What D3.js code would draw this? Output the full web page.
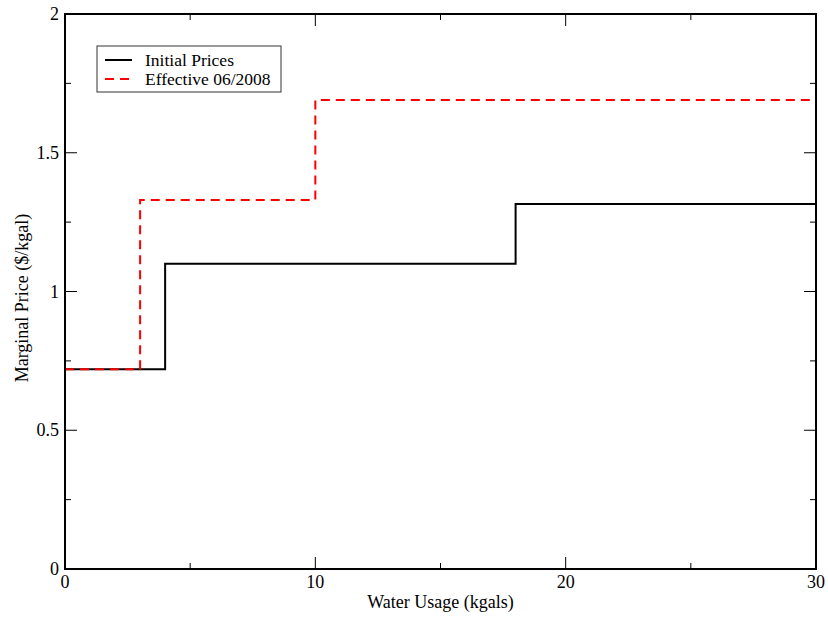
<!DOCTYPE html>
<html>
<head>
<meta charset="utf-8">
<script src="https://cdn.jsdelivr.net/npm/d3@7"></script>
<style>
  body { margin: 0; background: #fff; }
  text { font-family: "Liberation Serif", "Times New Roman", Times, "DejaVu Serif", serif; }
</style>
</head>
<body>
<svg width="828" height="617"></svg>
<script>
// step data: each series is [x, price] breakpoints, last point closes the step
let initialX = [0, 4, 18, 30];
let initialY = [0.72, 1.10, 1.315, 1.315];
let effectiveX = [0, 3, 10, 30];
let effectiveY = [0.72, 1.33, 1.69, 1.69];

let xMajor = [0, 10, 20, 30];
let xMinor = [5, 15, 25];
let yMajor = [0, 0.5, 1, 1.5, 2];
let yMinor = [0.25, 0.75, 1.25, 1.75];

let svg = d3.select("svg");
let plotLeft = 65, plotRight = 816, plotTop = 14, plotBottom = 569;

let x = d3.scaleLinear().domain([0, 30]).range([plotLeft, plotRight]);
let y = d3.scaleLinear().domain([0, 2]).range([plotBottom, plotTop]);

// ticks on all four sides, pointing inward
function xticks(g, vals, len) {
    vals.forEach(v => {
        g.append("line").attr("x1", x(v)).attr("x2", x(v)).attr("y1", plotBottom).attr("y2", plotBottom - len);
        g.append("line").attr("x1", x(v)).attr("x2", x(v)).attr("y1", plotTop).attr("y2", plotTop + len);
    });
}
function yticks(g, vals, len) {
    vals.forEach(v => {
        g.append("line").attr("y1", y(v)).attr("y2", y(v)).attr("x1", plotLeft).attr("x2", plotLeft + len);
        g.append("line").attr("y1", y(v)).attr("y2", y(v)).attr("x1", plotRight).attr("x2", plotRight - len);
    });
}
let tg = svg.append("g").attr("stroke", "#000").attr("stroke-width", 1);
xticks(tg, xMajor, 12);
xticks(tg, xMinor, 6);
yticks(tg, yMajor, 12);
yticks(tg, yMinor, 6);

// data lines
let line = d3.line().curve(d3.curveStepAfter).x(d => x(d[0])).y(d => y(d[1]));

svg.append("path")
    .datum(initialX.map((v, i) => [v, initialY[i]]))
    .attr("d", line)
    .attr("fill", "none")
    .attr("stroke", "#000")
    .attr("stroke-width", 2);

svg.append("path")
    .datum(effectiveX.map((v, i) => [v, effectiveY[i]]))
    .attr("d", line)
    .attr("fill", "none")
    .attr("stroke", "#ff0000")
    .attr("stroke-width", 2)
    .attr("stroke-dasharray", "9,6");

// frame
svg.append("rect")
    .attr("x", plotLeft).attr("y", plotTop)
    .attr("width", plotRight - plotLeft).attr("height", plotBottom - plotTop)
    .attr("fill", "none").attr("stroke", "#000").attr("stroke-width", 2);

// tick labels
svg.append("g").selectAll("text").data(xMajor).join("text")
    .attr("x", d => x(d)).attr("y", plotBottom + 19)
    .attr("text-anchor", "middle").attr("font-size", 18)
    .text(d => d);

svg.append("g").selectAll("text").data(yMajor).join("text")
    .attr("x", plotLeft - 6).attr("y", d => y(d) + 6)
    .attr("text-anchor", "end").attr("font-size", 18)
    .text(d => d);

// axis titles
svg.append("text")
    .attr("x", (plotLeft + plotRight) / 2).attr("y", 608)
    .attr("text-anchor", "middle").attr("font-size", 18)
    .text("Water Usage (kgals)");

svg.append("text")
    .attr("transform", "translate(28,298) rotate(-90)")
    .attr("text-anchor", "middle").attr("font-size", 18)
    .text("Marginal Price ($/kgal)");

// legend
let legend = svg.append("g");
legend.append("rect")
    .attr("x", 97).attr("y", 46).attr("width", 184).attr("height", 46)
    .attr("fill", "#fff").attr("stroke", "#333").attr("stroke-width", 1);
let entries = [
    { name: "Initial Prices", color: "#000", dash: null },
    { name: "Effective 06/2008", color: "#ff0000", dash: "9,6" }
];
entries.forEach((e, i) => {
    let yy = 60 + i * 19;
    legend.append("line")
        .attr("x1", 105).attr("x2", 132).attr("y1", yy).attr("y2", yy)
        .attr("stroke", e.color).attr("stroke-width", 2)
        .attr("stroke-dasharray", e.dash);
    legend.append("text")
        .attr("x", 145).attr("y", yy + 6)
        .attr("font-size", 17.5)
        .text(e.name);
});
</script>
</body>
</html>
